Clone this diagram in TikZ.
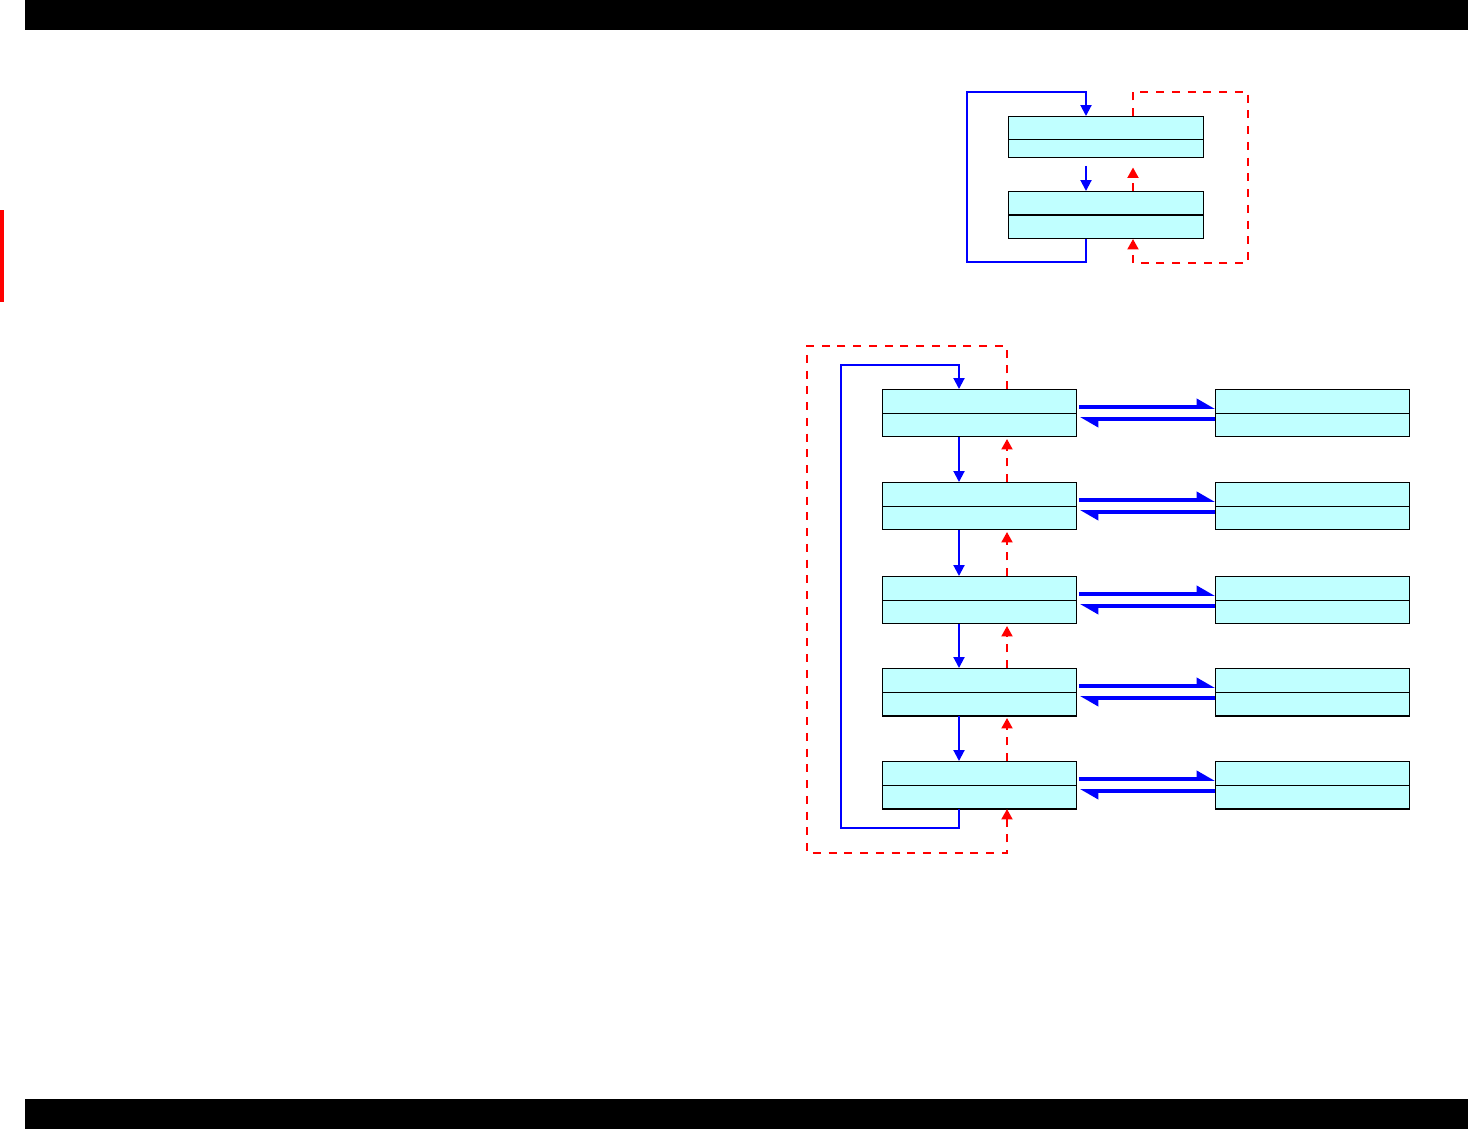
\documentclass[tikz,border=0pt]{standalone}
\usetikzlibrary{arrows.meta,positioning}
\definecolor{cellcyan}{RGB}{192,255,255}
\tikzset{
  cell/.style={rectangle, draw=black, line width=0.57pt, fill=cellcyan,
               minimum width=3.9cm, minimum height=0.48cm,
               inner sep=0pt, outer sep=0pt},
  fwd/.style={blue, line width=1.15pt,
              -{Triangle[length=0.22cm,width=0.22cm]}},
  ret/.style={red, line width=1.15pt, dash pattern=on 0.16cm off 0.155cm,
              -{Triangle[length=0.21cm,width=0.22cm]}},
  xfer/.style={blue, line width=2pt,
               -{Triangle[harpoon,length=0.3cm,width=0.32cm]}},
}

\begin{document}
\begin{tikzpicture}[x=0.02cm,y=-0.02cm]
  \useasboundingbox (0,0) rectangle (1468,1129);

  % page frame
  \fill[black] (25,0) rectangle (1468,30);
  \fill[black] (25,1099) rectangle (1468,1129);
  \fill[red] (0,210) rectangle (4,302);

  % upper pair
  \node[cell] (T1-top) at (1106,128) {};
  \node[cell, minimum height=0.36cm, below=0pt of T1-top] (T1-bot) {};
  \node[cell] (T2-top) at (1106,203) {};
  \node[cell, below=0pt of T2-top] (T2-bot) {};

  \draw[fwd, shorten <=0.16cm] ([xshift=-0.4cm]T1-bot.south) -- ([xshift=-0.4cm]T2-top.north);
  \draw[ret, shorten >=0.19cm] ([xshift=0.54cm]T2-top.north) -- ([xshift=0.54cm]T1-bot.south);
  \draw[fwd] ([xshift=-0.4cm]T2-bot.south) |- (967,262) -- (967,92)
    -| ([xshift=-0.4cm]T1-top.north);
  \draw[ret] ([xshift=0.54cm]T1-top.north) |- (1248,92) -- (1248,263)
    -| ([xshift=0.54cm]T2-bot.south);

  % chain of five with partners
  \foreach \n/\y in {1/401,2/494,3/588,4/680,5/773}{
    \node[cell] (L\n-top) at (979.5,\y) {};
    \node[cell, below=0pt of L\n-top] (L\n-bot) {};
    \node[cell] (R\n-top) at (1312.5,\y) {};
    \node[cell, below=0pt of R\n-top] (R\n-bot) {};
    \draw[xfer, shorten <=0.04cm] ([yshift=-0.12cm]L\n-top.east) -- ([yshift=-0.12cm]R\n-top.west);
    \draw[xfer, shorten >=0.06cm] ([yshift=0.12cm]R\n-bot.west) -- ([yshift=0.12cm]L\n-bot.east);
  }
  \foreach \n [count=\m from 2] in {1,...,4}{
    \draw[fwd] ([xshift=-0.41cm]L\n-bot.south) -- ([xshift=-0.41cm]L\m-top.north);
    \draw[ret, shorten >=0.04cm] ([xshift=0.55cm]L\m-top.north) -- ([xshift=0.55cm]L\n-bot.south);
  }

  % wrap-around links
  \draw[fwd] ([xshift=-0.41cm]L5-bot.south) |- (841,828) -- (841,365)
    -| ([xshift=-0.41cm]L1-top.north);
  \draw[ret] ([xshift=0.55cm]L1-top.north) |- (807,346) -- (807,853)
    -| ([xshift=0.55cm]L5-bot.south);
\end{tikzpicture}
\end{document}
